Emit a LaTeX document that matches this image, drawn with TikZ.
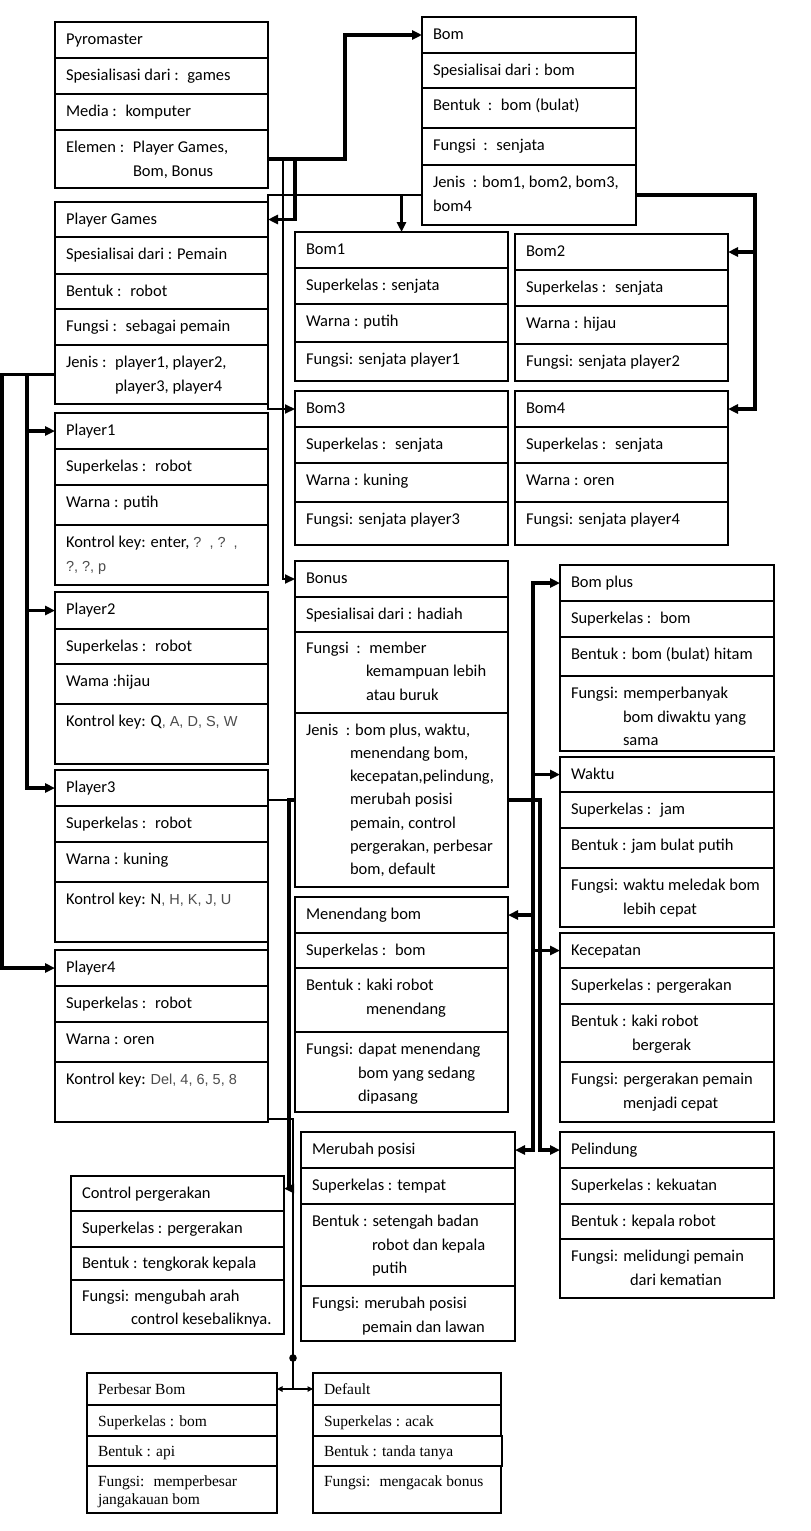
\documentclass[tikz,border=0pt]{standalone}
\usepackage{fontspec}
\setmainfont{Carlito}
\newfontfamily\tnr{Liberation Serif}
\newfontfamily\ari{Liberation Sans}
\usetikzlibrary{arrows.meta}
\newcommand\cellfont{\fontsize{16.5}{23.3}\selectfont}
\newcommand\keyf[1]{{\ari\fontsize{14.5}{23.3}\selectfont\color{black!70}#1}}
\newcommand\rowc[6][22.8]{\node[cell] (#2) at (#3) {\parbox[c][#5pt][t]{#4pt}{\raggedright\leftskip=11pt\rule{0pt}{#1pt}#6}};}
\begin{document}
\begin{tikzpicture}[x=1pt,y=-1pt,
  cell/.style={draw,line width=1.3pt,inner sep=0pt,outer sep=0pt,anchor=north west,font=\cellfont},
  conn/.style={line width=3.3pt},
  lite/.style={line width=2.1pt},
  hair/.style={line width=1.1pt},
  arr/.style={-{Triangle[length=10pt,width=9pt]}},
  sarr/.style={-{Triangle[length=5.5pt,width=5.5pt]}}]
\fill[white] (0,0) rectangle (811,1531);
\useasboundingbox (0,0) rectangle (811,1531);
% Pyromaster
\rowc{pyro1}{55,22}{213}{36}{Pyromaster}
\rowc{pyro2}{55,58}{213}{36}{Spesialisasi dari :~ games}
\rowc{pyro3}{55,94}{213}{36}{Media :~ komputer}
\rowc{pyro4}{55,130}{213}{58}{Elemen :~ Player Games,\\\hspace*{67pt}Bom, Bonus}
% Player Games
\rowc{pg1}{55,202}{213}{35}{Player Games}
\rowc{pg2}{55,237}{213}{37}{Spesialisai dari : Pemain}
\rowc{pg3}{55,274}{213}{35}{Bentuk :~ robot}
\rowc{pg4}{55,309}{213}{36}{Fungsi :~ sebagai pemain}
\rowc{pg5}{55,345}{213}{59}{Jenis :~ player1, player2,\\\hspace*{49pt}player3, player4}
% Player1
\rowc{pa1}{55,413}{213}{36}{Player1}
\rowc{pa2}{55,449}{213}{36}{Superkelas :~ robot}
\rowc{pa3}{55,485}{213}{40}{Warna : putih}
\rowc{pa4}{55,525}{213}{60}{Kontrol key: enter,\keyf{~?~~,~?~~,}\\\keyf{?, ?, p}}
% Player2
\rowc{pb1}{55,592}{213}{37}{Player2}
\rowc{pb2}{55,629}{213}{35}{Superkelas :~ robot}
\rowc{pb3}{55,664}{213}{40}{Wama :hijau}
\rowc{pb4}{55,704}{213}{60}{Kontrol key: Q\keyf{, A, D, S, W}}
% Player3
\rowc{pc1}{55,770}{213}{36}{Player3}
\rowc{pc2}{55,806}{213}{36}{Superkelas :~ robot}
\rowc{pc3}{55,842}{213}{40}{Warna : kuning}
\rowc{pc4}{55,882}{213}{60}{Kontrol key: N\keyf{, H, K, J, U}}
% Player4
\rowc{pd1}{55,950}{213}{36}{Player4}
\rowc{pd2}{55,986}{213}{36}{Superkelas :~ robot}
\rowc{pd3}{55,1022}{213}{40}{Warna : oren}
\rowc{pd4}{55,1062}{213}{60}{Kontrol key: \keyf{Del, 4, 6, 5, 8}}
% Bom
\rowc{bm1}{422,17}{214}{36}{Bom}
\rowc{bm2}{422,53}{214}{35}{Spesialisai dari : bom}
\rowc{bm3}{422,88}{214}{40}{Bentuk~ :~ bom (bulat)}
\rowc{bm4}{422,128}{214}{37}{Fungsi~ :~ senjata}
\rowc{bm5}{422,165}{214}{60}{Jenis~ : bom1, bom2, bom3,\\bom4}
% Bom1
\rowc{ba1}{295,232}{213}{36}{Bom1}
\rowc{ba2}{295,268}{213}{36}{Superkelas : senjata}
\rowc{ba3}{295,304}{213}{38}{Warna : putih}
\rowc{ba4}{295,342}{213}{39}{Fungsi: senjata player1}
% Bom2
\rowc{bb1}{515,234}{213}{36}{Bom2}
\rowc{bb2}{515,270}{213}{36}{Superkelas :~ senjata}
\rowc{bb3}{515,306}{213}{38}{Warna : hijau}
\rowc{bb4}{515,344}{213}{37}{Fungsi: senjata player2}
% Bom3
\rowc{bc1}{295,391}{213}{36}{Bom3}
\rowc{bc2}{295,427}{213}{36}{Superkelas :~ senjata}
\rowc{bc3}{295,463}{213}{39}{Warna : kuning}
\rowc{bc4}{295,502}{213}{43}{Fungsi: senjata player3}
% Bom4
\rowc{bd1}{515,391}{213}{36}{Bom4}
\rowc{bd2}{515,427}{213}{36}{Superkelas :~ senjata}
\rowc{bd3}{515,463}{213}{39}{Warna : oren}
\rowc{bd4}{515,502}{213}{43}{Fungsi: senjata player4}
% Bonus
\rowc{bn1}{295,561}{213}{36}{Bonus}
\rowc{bn2}{295,597}{213}{35}{Spesialisai dari : hadiah}
\rowc[21.5]{bn3}{295,632}{213}{81}{Fungsi~ :~ member\\\hspace*{60pt}kemampuan lebih\\\hspace*{60pt}atau buruk}
\rowc[22]{bn4}{295,713}{213}{174}{Jenis~ : bom plus, waktu,\\\hspace*{44pt}menendang bom,\\\hspace*{44pt}kecepatan,pelindung,\\\hspace*{44pt}merubah posisi\\\hspace*{44pt}pemain, control\\\hspace*{44pt}pergerakan, perbesar\\\hspace*{44pt}bom, default}
% Menendang bom
\rowc{mn1}{295,897}{213}{36}{Menendang bom}
\rowc{mn2}{295,933}{213}{35}{Superkelas :~ bom}
\rowc{mn3}{295,968}{213}{64}{Bentuk : kaki robot\\\hspace*{60pt}menendang}
\rowc{mn4}{295,1032}{213}{80}{Fungsi: dapat menendang\\\hspace*{52pt}bom yang sedang\\\hspace*{52pt}dipasang}
% Merubah posisi
\rowc{mp1}{301,1132}{214}{36}{Merubah posisi}
\rowc{mp2}{301,1168}{214}{36}{Superkelas : tempat}
\rowc{mp3}{301,1204}{214}{82}{Bentuk : setengah badan\\\hspace*{60pt}robot dan kepala\\\hspace*{60pt}putih}
\rowc{mp4}{301,1286}{214}{55}{Fungsi: merubah posisi\\\hspace*{50pt}pemain dan lawan}
% Control pergerakan
\rowc{cp1}{71,1176}{213}{35}{Control pergerakan}
\rowc{cp2}{71,1211}{213}{36}{Superkelas : pergerakan}
\rowc[21.5]{cp3}{71,1247}{213}{33}{Bentuk : tengkorak kepala}
\rowc[21.5]{cp4}{71,1280}{213}{54}{Fungsi: mengubah arah\\\hspace*{49pt}control kesebaliknya.}
% Bom plus
\rowc{bp1}{560,565}{214}{36}{Bom plus}
\rowc{bp2}{560,601}{214}{36}{Superkelas :~ bom}
\rowc{bp3}{560,637}{214}{39}{Bentuk : bom (bulat) hitam}
\rowc{bp4}{560,676}{214}{75}{Fungsi: memperbanyak\\\hspace*{52pt}bom diwaktu yang\\\hspace*{52pt}sama}
% Waktu
\rowc{wk1}{560,757}{214}{35}{Waktu}
\rowc{wk2}{560,792}{214}{36}{Superkelas :~ jam}
\rowc{wk3}{560,828}{214}{40}{Bentuk : jam bulat putih}
\rowc{wk4}{560,868}{214}{59}{Fungsi: waktu meledak bom\\\hspace*{52pt}lebih cepat}
% Kecepatan
\rowc{kc1}{560,933}{214}{35}{Kecepatan}
\rowc{kc2}{560,968}{214}{36}{Superkelas : pergerakan}
\rowc{kc3}{560,1004}{214}{58}{Bentuk : kaki robot\\\hspace*{61pt}bergerak}
\rowc{kc4}{560,1062}{214}{60}{Fungsi: pergerakan pemain\\\hspace*{52pt}menjadi cepat}
% Pelindung
\rowc{pl1}{560,1132}{214}{36}{Pelindung}
\rowc{pl2}{560,1168}{214}{36}{Superkelas : kekuatan}
\rowc{pl3}{560,1204}{214}{35}{Bentuk : kepala robot}
\rowc{pl4}{560,1239}{214}{59}{Fungsi: melidungi pemain\\\hspace*{59pt}dari kematian}
% Times boxes
\renewcommand\cellfont{\tnr\fontsize{15.5}{18}\selectfont}
\rowc[21.5]{pr1}{87,1373}{190}{32}{Perbesar Bom}
\rowc[21.5]{pr2}{87,1405}{190}{31}{Superkelas : bom}
\rowc[20]{pr3}{87,1436}{190}{30}{Bentuk : api}
\rowc[20]{pr4}{87,1466}{190}{47}{Fungsi:~ memperbesar\\jangakauan bom}
\rowc[21.5]{df1}{313,1373}{188}{32}{Default}
\rowc[21.5]{df2}{313,1405}{188}{31}{Superkelas : acak}
\rowc[20]{df3}{313,1436}{189}{30}{Bentuk : tanda tanya}
\rowc[20]{df4}{313,1466}{188}{47}{Fungsi:~ mengacak bonus}
% Connectors from Pyromaster
\draw[conn,arr] (pyro4.east) -- ++(77,0) |- (bm1.west);
\draw[conn,arr] (pyro4.east) -- ++(27,0) |- (pg1.east);
\draw[lite,arr] (pyro4.east) -- ++(15,0) |- (bn1.west);
% Connectors from Bom
\draw[lite,arr] (bm5.west) -| ([xshift=-27pt]bc1.west) -- (bc1.west);
\draw[conn,arr] (bm5.west -| ba1.north) -- (ba1.north);
\draw[conn,arr] (bm5.east) -- ++(119,0) |- (bb1.east);
\draw[conn,arr] (bm5.east) -- ++(119,0) |- (bd1.east);
% Connectors from Player Games
\draw[conn,arr] (pg5.west) -- ++(-28,0) |- (pa1.west);
\draw[conn,arr] (pg5.west) -- ++(-28,0) |- (pb1.west);
\draw[conn,arr] (pg5.west) -- ++(-28,0) |- (pc1.west);
\draw[conn,arr] (pg5.west) -- ++(-53,0) |- (pd1.west);
% Connectors from Bonus, left side
\draw[lite] (bn4.west) -- ++(-27,0) -- ++(0,319) -- ++(25,0) coordinate (jn) -- (jn |- pr1.east) coordinate (jb);
\fill (jb) ++(0,-31) circle (3.8pt);
\draw[hair,sarr] (jb) -- (pr1.east);
\draw[hair,sarr] (jb) -- (df1.west);
\draw[conn,arr] (bn4.west) -- ++(-6,0) |- ([yshift=5pt]cp1.east);
% Connectors from Bonus, right side
\draw[conn,arr] (bn4.east) -- ++(25,0) |- (bp1.west);
\draw[conn,arr] (bn4.east) -- ++(25,0) |- (wk1.west);
\draw[conn,arr] (bn4.east) -- ++(25,0) |- (mn1.east);
\draw[conn,arr] (bn4.east) -- ++(25,0) |- (kc1.west);
\draw[conn,arr] (bn4.east) -- ++(25,0) |- (mp1.east);
\draw[conn,arr] (bn4.east) -- ++(32,0) |- (pl1.west);
\end{tikzpicture}
\end{document}
